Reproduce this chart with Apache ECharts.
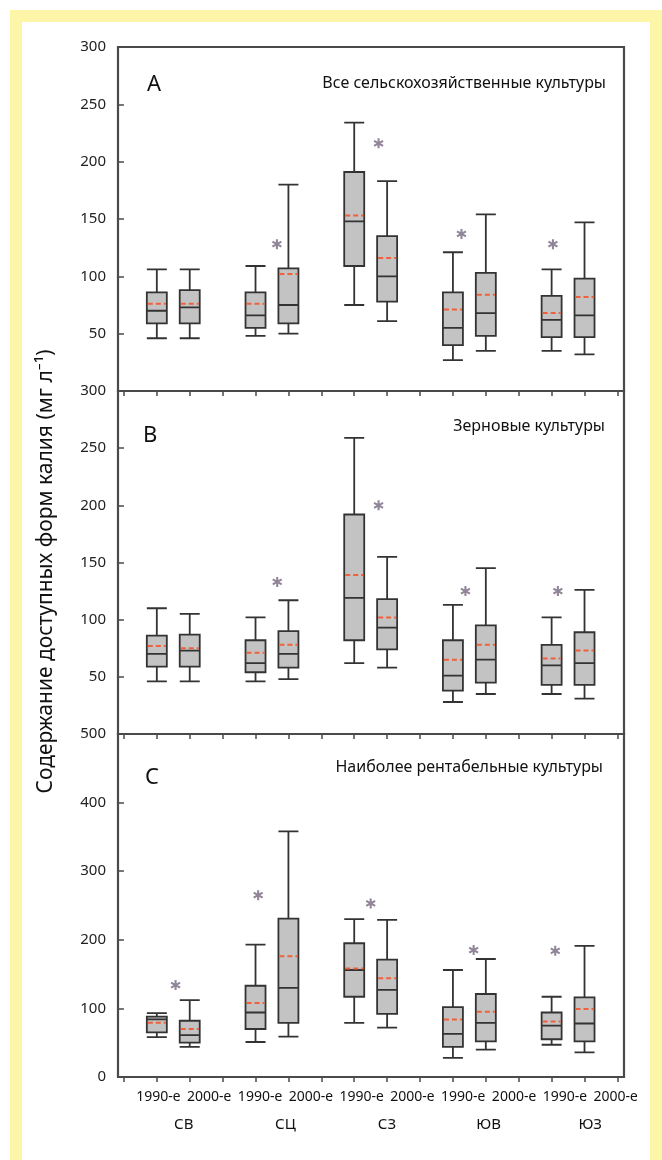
<!DOCTYPE html>
<html>
<head>
<meta charset="utf-8">
<script src="https://cdn.jsdelivr.net/npm/echarts@6/dist/echarts.min.js"></script>
<style>
  html, body { margin: 0; padding: 0; background: #fff; }
  #frame { position: absolute; left: 10px; top: 10px; width: 652px; height: 1150px; background: #fdf5a8; }
  #inner { position: absolute; left: 22px; top: 22px; width: 628px; height: 1138px; background: #fff; }
  #chart { position: absolute; left: 0; top: 0; width: 662px; height: 1160px; }
</style>
</head>
<body>
<div id="frame"></div>
<div id="inner"></div>
<div id="chart"></div>
<script>
// подписи оси X
const yearLabels = ['1990-е', '2000-е', '1990-е', '2000-е', '1990-е', '2000-е', '1990-е', '2000-е', '1990-е', '2000-е'];
const regions = ['СВ', 'СЦ', 'СЗ', 'ЮВ', 'ЮЗ'];
// позиции ящиков на шкале (пустые слоты между регионами)
const boxSlots = [1, 2, 4, 5, 7, 8, 10, 11, 13, 14];
const tickSlots = [0, 1, 2, 3, 4, 5, 6, 7, 8, 9, 10, 11, 12, 13, 14, 15];

// A: все культуры  [min, Q1, медиана, Q3, max]
const statsA = [
  [46, 59, 70, 86, 106], [46, 59, 73, 88, 106],
  [48, 55, 66, 86, 109], [50, 59, 75, 107, 180],
  [75, 109, 148, 191, 234], [61, 78, 100, 135, 183],
  [27, 40, 55, 86, 121], [35, 48, 68, 103, 154],
  [35, 47, 62, 83, 106], [32, 47, 66, 98, 147]
];
const meansA = [76, 76, 76, 102, 153, 116, 71, 84, 68, 82];
const starXA = [4.65, 7.74, 10.26, 13.04];
const starYA = [128, 216, 137, 128];

// B: зерновые
const statsB = [
  [46, 59, 70, 86, 110], [46, 59, 73, 87, 105],
  [46, 54, 62, 82, 102], [48, 58, 70, 90, 117],
  [62, 82, 119, 192, 259], [58, 74, 93, 118, 155],
  [28, 38, 51, 82, 113], [35, 45, 65, 95, 145],
  [35, 43, 60, 78, 102], [31, 43, 62, 89, 126]
];
const meansB = [77, 75, 71, 78, 139, 102, 65, 78, 66, 73];
const starXB = [4.66, 7.74, 10.38, 13.19];
const starYB = [133, 200, 125, 125];

// C: наиболее рентабельные
const statsC = [
  [58, 65, 84, 88, 93], [44, 50, 61, 82, 112],
  [51, 70, 94, 133, 193], [59, 79, 130, 231, 358],
  [79, 117, 156, 195, 230], [72, 92, 127, 171, 229],
  [28, 44, 63, 102, 156], [40, 52, 79, 121, 172],
  [47, 55, 75, 94, 117], [36, 52, 78, 116, 191]
];
const meansC = [79, 70, 108, 176, 158, 144, 84, 95, 81, 99];
const starXC = [1.57, 4.08, 7.5, 10.63, 13.11];
const starYC = [134, 265, 253, 185, 184];

const FONT = '"Noto Sans", "DejaVu Sans", sans-serif';
const FRAME = '#4a4a4a';
const STAR = 'path://M-1,-5L1,-5L1,5L-1,5Z M3.83,-3.37L4.83,-1.63L-3.83,3.37L-4.83,1.63Z M-4.83,-1.63L-3.83,-3.37L4.83,1.63L3.83,3.37Z';

const panels = [
  { stats: statsA, means: meansA, sx: starXA, sy: starYA, top: 47, height: 344, max: 300, step: 50, hideMin: true },
  { stats: statsB, means: meansB, sx: starXB, sy: starYB, top: 391, height: 343, max: 300, step: 50, hideMin: true },
  { stats: statsC, means: meansC, sx: starXC, sy: starYC, top: 734, height: 343, max: 500, step: 100, hideMin: false }
];

function renderMean(params, api) {
  const c = api.coord([api.value(0), api.value(1)]);
  return {
    type: 'line',
    shape: { x1: c[0] - 9, y1: c[1], x2: c[0] + 9, y2: c[1] },
    style: { stroke: '#f0603a', lineWidth: 2, lineDash: [5, 3] }
  };
}

const grid = [], xAxis = [], yAxis = [], series = [];

panels.forEach((p, i) => {
  grid.push({
    left: 118, width: 506, top: p.top, height: p.height,
    show: true, borderColor: FRAME, borderWidth: 2.2, backgroundColor: 'transparent'
  });
  xAxis.push({
    type: 'value', gridIndex: i, min: -0.18, max: 15.2,
    axisLine: { show: false },
    axisTick: { show: true, length: 5, customValues: tickSlots, lineStyle: { color: FRAME, width: 1.5 } },
    axisLabel: { show: false },
    splitLine: { show: false }
  });
  yAxis.push({
    type: 'value', gridIndex: i, min: 0, max: p.max, interval: p.step,
    axisLine: { show: false },
    axisTick: { show: true, length: 6, lineStyle: { color: FRAME, width: 1.5 } },
    axisLabel: { showMinLabel: !p.hideMin, color: '#222', fontSize: 15, fontFamily: FONT, margin: 12 },
    splitLine: { show: false },
    name: i === 1 ? 'Содержание доступных форм калия (мг л⁻¹)' : '',
    nameLocation: 'middle',
    nameGap: 61,
    nameTextStyle: { color: '#111', fontSize: 21, fontFamily: FONT, padding: [0, 18, 0, 0] }
  });
  series.push({
    type: 'boxplot', xAxisIndex: i, yAxisIndex: i,
    boxWidth: [20, 20],
    data: boxSlots.map((x, k) => [x].concat(p.stats[k])),
    itemStyle: { color: '#c3c3c3', borderColor: '#333', borderWidth: 1.8 },
    silent: true, z: 2
  });
  series.push({
    type: 'custom', xAxisIndex: i, yAxisIndex: i,
    renderItem: renderMean,
    encode: { x: 0, y: 1 },
    data: boxSlots.map((x, k) => [x, p.means[k]]),
    silent: true, z: 3
  });
  series.push({
    type: 'scatter', xAxisIndex: i, yAxisIndex: i,
    symbol: STAR, symbolSize: 10,
    itemStyle: { color: '#76667f' },
    data: p.sx.map((x, k) => [x, p.sy[k]]),
    silent: true, z: 4
  });
});

// подписи лет и регионов под нижней панелью
grid.push({ left: 133, width: 508, top: 1076, height: 1 });
xAxis.push({
  type: 'category', gridIndex: 3, position: 'bottom', data: yearLabels,
  axisLine: { show: false }, axisTick: { show: false },
  axisLabel: { interval: 0, color: '#111', fontSize: 14, fontFamily: FONT, margin: 13 }
});
xAxis.push({
  type: 'category', gridIndex: 3, position: 'bottom', data: regions,
  axisLine: { show: false }, axisTick: { show: false },
  axisLabel: { interval: 0, color: '#111', fontSize: 15, fontFamily: FONT, margin: 40 }
});
yAxis.push({ type: 'value', gridIndex: 3, show: false });

const letterStyle = { fontSize: 22, fontWeight: 'normal', color: '#111', fontFamily: FONT };
const headStyle = { fontSize: 16, fontWeight: 'normal', color: '#111', fontFamily: FONT };

const chart = echarts.init(document.getElementById('chart'));
chart.setOption({
  animation: false,
  backgroundColor: 'transparent',
  textStyle: { fontFamily: FONT },
  title: [
    { text: 'A', left: 147, top: 74, padding: 0, textStyle: letterStyle },
    { text: 'Все сельскохозяйственные культуры', right: 56, top: 75, padding: 0, textStyle: headStyle },
    { text: 'B', left: 143, top: 425, padding: 0, textStyle: letterStyle },
    { text: 'Зерновые культуры', right: 57, top: 418, padding: 0, textStyle: headStyle },
    { text: 'C', left: 145, top: 767, padding: 0, textStyle: letterStyle },
    { text: 'Наиболее рентабельные культуры', right: 59, top: 759, padding: 0, textStyle: headStyle }
  ],
  grid: grid,
  xAxis: xAxis,
  yAxis: yAxis,
  series: series
});
</script>
</body>
</html>
